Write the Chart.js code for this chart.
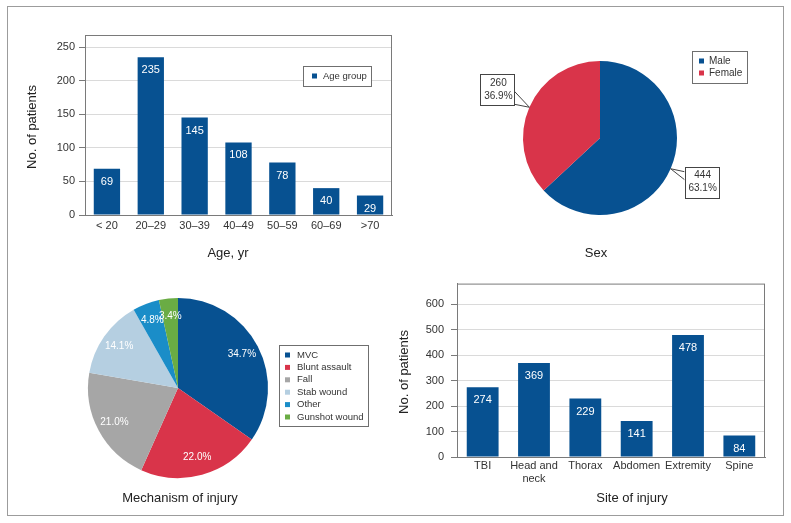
<!DOCTYPE html>
<html>
<head>
<meta charset="utf-8">
<script src="https://cdn.jsdelivr.net/npm/chart.js@4.4.1/dist/chart.umd.min.js"></script>
<style>
  html, body { margin: 0; padding: 0; background: #fff; }
  #wrap { position: relative; width: 791px; height: 523px; overflow: hidden; }
  #frame { position: absolute; left: 7px; top: 6px; width: 777px; height: 510px; box-sizing: border-box; border: 1.5px solid #9c9c9c; }
  canvas { position: absolute; }
</style>
</head>
<body>
<div id="wrap">
  <div id="frame"></div>
  <canvas id="c-age" width="400" height="270" style="left:0;top:0;"></canvas>
  <canvas id="c-sex" width="391" height="270" style="left:400px;top:0;"></canvas>
  <canvas id="c-mech" width="400" height="253" style="left:0;top:270px;"></canvas>
  <canvas id="c-site" width="399" height="253" style="left:392px;top:270px;"></canvas>
</div>
<script>
// ─── data ───────────────────────────────────────────────
var ageLabels = ['< 20', '20–29', '30–39', '40–49', '50–59', '60–69', '>70'];
var ageValues = [69, 235, 145, 108, 78, 40, 29];
var ageAxisMax = 268, ageAxisStep = 50;

var sexLabels = ['Male', 'Female'];
var sexValues = [444, 260];

var mechLabels = ['MVC', 'Blunt assault', 'Fall', 'Stab wound', 'Other', 'Gunshot wound'];
var mechValues = [34.7, 22.0, 21.0, 14.1, 4.8, 3.4];

var siteLabels = ['TBI', ['Head and', 'neck'], 'Thorax', 'Abdomen', 'Extremity', 'Spine'];
var siteValues = [274, 369, 229, 141, 478, 84];
var siteAxisMax = 680, siteAxisStep = 100;

// ─── colours ────────────────────────────────────────────
var BLUE = '#075191';
var sexColors = [BLUE, '#d9344a'];
var mechColors = [BLUE, '#d9344a', '#a6a6a6', '#b5cfe1', '#1a8dc8', '#6aac44'];

var FONT = '"Liberation Sans", Arial, Helvetica, sans-serif';
Chart.defaults.font.family = FONT;
Chart.defaults.font.size = 11;
Chart.defaults.color = '#333';

// gray box around the plot area of the bar charts
var plotBox = {
  id: 'plotBox',
  beforeDatasetsDraw: function(chart) {
    if (chart.config.type !== 'bar') return;
    var a = chart.chartArea, ctx = chart.ctx;
    ctx.save();
    ctx.strokeStyle = '#7a7a7a';
    ctx.lineWidth = 1;
    ctx.strokeRect(a.left + 0.5, a.top + 0.5, a.right - a.left - 1, a.bottom - a.top);
    ctx.restore();
  }
};

// white value labels inside the bars
var barValues = {
  id: 'barValues',
  afterDatasetsDraw: function(chart) {
    if (chart.config.type !== 'bar') return;
    var ctx = chart.ctx;
    var meta = chart.getDatasetMeta(0);
    var data = chart.data.datasets[0].data;
    ctx.save();
    ctx.fillStyle = '#fff';
    ctx.font = '11px ' + FONT;
    ctx.textAlign = 'center';
    ctx.textBaseline = 'middle';
    meta.data.forEach(function(el, i) {
      ctx.fillText(String(data[i]), el.x, el.y + 13);
    });
    ctx.restore();
  }
};

// free text captions (axis titles etc)
var captions = {
  id: 'captions',
  afterDraw: function(chart, args, opts) {
    var ctx = chart.ctx;
    (opts.items || []).forEach(function(c) {
      ctx.save();
      ctx.fillStyle = '#222';
      ctx.font = (c.size || 13) + 'px ' + FONT;
      ctx.textAlign = 'center';
      ctx.textBaseline = 'middle';
      ctx.translate(c.x, c.y);
      if (c.rotate) ctx.rotate(-Math.PI / 2);
      ctx.fillText(c.text, 0, 0);
      ctx.restore();
    });
  }
};

// boxed legend like the original
var boxLegend = {
  id: 'boxLegend',
  afterDraw: function(chart, args, opts) {
    if (!opts.box) return;
    var ctx = chart.ctx, b = opts.box;
    var ds = chart.data.datasets[0];
    var names = opts.names || chart.data.labels;
    ctx.save();
    ctx.fillStyle = '#fff';
    ctx.fillRect(b.x, b.y, b.w, b.h);
    ctx.strokeStyle = '#6f6f6f';
    ctx.lineWidth = 1;
    ctx.strokeRect(b.x + 0.5, b.y + 0.5, b.w, b.h);
    ctx.font = (opts.size || 9.5) + 'px ' + FONT;
    ctx.textBaseline = 'middle';
    ctx.textAlign = 'left';
    names.forEach(function(n, i) {
      var y = b.y + opts.first + i * opts.rowH;
      var col = Array.isArray(ds.backgroundColor) ? ds.backgroundColor[i] : ds.backgroundColor;
      ctx.fillStyle = col;
      ctx.fillRect(b.x + opts.sq, y - 2.5, 5, 5);
      ctx.fillStyle = '#333';
      ctx.fillText(n, b.x + opts.tx, y);
    });
    ctx.restore();
  }
};

// callout boxes for the sex pie
var callouts = {
  id: 'callouts',
  afterDraw: function(chart, args, opts) {
    if (!opts.on) return;
    var ctx = chart.ctx;
    var meta = chart.getDatasetMeta(0);
    var data = chart.data.datasets[0].data;
    var total = data.reduce(function(s, v) { return s + v; }, 0);
    ctx.save();
    ctx.font = '10px ' + FONT;
    ctx.textAlign = 'center';
    ctx.textBaseline = 'middle';
    ctx.strokeStyle = '#444';
    ctx.lineWidth = 1;
    meta.data.forEach(function(arc, i) {
      var mid = (arc.startAngle + arc.endAngle) / 2;
      var tx = arc.x + Math.cos(mid) * arc.outerRadius;
      var ty = arc.y + Math.sin(mid) * arc.outerRadius;
      var w = 34, h = 31, bx, by;
      ctx.beginPath();
      if (tx < arc.x) {
        bx = tx - 15 - w; by = ty - 33;
        ctx.moveTo(bx + w, by + 17); ctx.lineTo(tx, ty); ctx.lineTo(bx + w, by + h - 1);
      } else {
        bx = tx + 14; by = ty - 2;
        ctx.moveTo(bx, by + 5); ctx.lineTo(tx, ty); ctx.lineTo(bx, by + 13);
      }
      ctx.stroke();
      ctx.fillStyle = '#fff';
      ctx.fillRect(bx, by, w, h);
      ctx.strokeRect(Math.round(bx) + 0.5, Math.round(by) + 0.5, w, h);
      ctx.fillStyle = '#333';
      ctx.fillText(String(data[i]), bx + w / 2 + 1, by + 9);
      ctx.fillText((data[i] / total * 100).toFixed(1) + '%', bx + w / 2 + 1, by + 22);
    });
    ctx.restore();
  }
};

// percentage labels inside the mechanism pie
var pieLabels = {
  id: 'pieLabels',
  afterDatasetsDraw: function(chart, args, opts) {
    if (!opts.on) return;
    var ctx = chart.ctx;
    var meta = chart.getDatasetMeta(0);
    var data = chart.data.datasets[0].data;
    ctx.save();
    ctx.font = '10px ' + FONT;
    ctx.textAlign = 'center';
    ctx.textBaseline = 'middle';
    ctx.fillStyle = '#fff';
    meta.data.forEach(function(arc, i) {
      var mid = (arc.startAngle + arc.endAngle) / 2;
      var r = arc.outerRadius * 0.8;
      ctx.fillText(data[i].toFixed(1) + '%', arc.x + Math.cos(mid) * r, arc.y + Math.sin(mid) * r);
    });
    ctx.restore();
  }
};

Chart.register(plotBox, barValues, captions, boxLegend, callouts, pieLabels);

function barOptions(cfg) {
  return {
    responsive: false, devicePixelRatio: 1, animation: false,
    layout: { padding: cfg.padding },
    plugins: {
      legend: { display: false }, tooltip: { enabled: false },
      captions: { items: cfg.captions },
      boxLegend: cfg.legend || {}
    },
    scales: {
      x: {
        offset: true,
        grid: { display: false, drawTicks: false },
        border: { display: true, color: '#7a7a7a', width: 1 },
        ticks: { padding: cfg.xPad, color: '#333', maxRotation: 0, autoSkip: false, font: { size: 11 } },
        afterFit: function(s) { s.height = cfg.xHeight; }
      },
      y: {
        min: 0, max: cfg.max,
        grid: { color: '#dadada', tickColor: '#7a7a7a', tickLength: 6 },
        border: { display: true, color: '#7a7a7a', width: 1 },
        ticks: { stepSize: cfg.step, includeBounds: false, padding: cfg.yPad, color: '#333', font: { size: 11 } },
        afterFit: function(s) { s.width = cfg.yWidth; }
      }
    }
  };
}

// Age group bar chart
new Chart(document.getElementById('c-age'), {
  type: 'bar',
  data: { labels: ageLabels, datasets: [{ label: 'Age group', data: ageValues, backgroundColor: BLUE, categoryPercentage: 1, barPercentage: 0.6 }] },
  options: barOptions({
    padding: { top: 35, right: 8, bottom: 0, left: 0 },
    max: ageAxisMax, step: ageAxisStep, xHeight: 55, yWidth: 85, xPad: 4, yPad: 4,
    captions: [
      { text: 'No. of patients', x: 32, y: 127, rotate: true },
      { text: 'Age, yr', x: 228, y: 253 }
    ],
    legend: { box: { x: 303, y: 66, w: 68, h: 20 }, names: ['Age group'], first: 10, rowH: 12, sq: 9, tx: 20 }
  })
});

// Sex pie
new Chart(document.getElementById('c-sex'), {
  type: 'pie',
  data: { labels: sexLabels, datasets: [{ data: sexValues, backgroundColor: sexColors, borderWidth: 0 }] },
  options: {
    responsive: false, devicePixelRatio: 1, animation: false,
    layout: { padding: { left: 123, right: 114, top: 61, bottom: 55 } },
    plugins: {
      legend: { display: false }, tooltip: { enabled: false },
      captions: { items: [{ text: 'Sex', x: 196, y: 253 }] },
      boxLegend: { box: { x: 292, y: 51, w: 55, h: 32 }, first: 10, rowH: 12, sq: 7, tx: 17, size: 10 },
      callouts: { on: true }
    }
  }
});

// Mechanism of injury pie
new Chart(document.getElementById('c-mech'), {
  type: 'pie',
  data: { labels: mechLabels, datasets: [{ data: mechValues, backgroundColor: mechColors, borderWidth: 0 }] },
  options: {
    responsive: false, devicePixelRatio: 1, animation: false,
    layout: { padding: { left: 88, right: 132, top: 28, bottom: 45 } },
    plugins: {
      legend: { display: false }, tooltip: { enabled: false },
      captions: { items: [{ text: 'Mechanism of injury', x: 180, y: 228 }] },
      boxLegend: { box: { x: 279, y: 75, w: 89, h: 81 }, first: 10, rowH: 12.4, sq: 6, tx: 18 },
      pieLabels: { on: true }
    }
  }
});

// Site of injury bar chart
new Chart(document.getElementById('c-site'), {
  type: 'bar',
  data: { labels: siteLabels, datasets: [{ label: 'Site of injury', data: siteValues, backgroundColor: BLUE, categoryPercentage: 1, barPercentage: 0.62 }] },
  options: barOptions({
    padding: { top: 7, right: 26, bottom: 0, left: 0 },
    max: siteAxisMax, step: siteAxisStep, xHeight: 66, yWidth: 65, xPad: 2, yPad: 7,
    captions: [
      { text: 'No. of patients', x: 12, y: 102, rotate: true },
      { text: 'Site of injury', x: 240, y: 228 }
    ]
  })
});
</script>
</body>
</html>
